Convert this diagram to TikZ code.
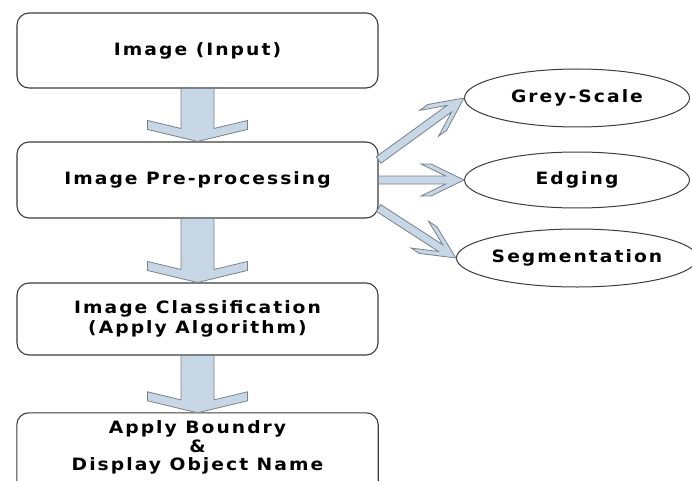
\documentclass[tikz,border=0pt]{standalone}
\usepackage{fontspec}
\usepackage{tikz}
\usetikzlibrary{shapes.geometric,calc}
\newfontfamily\diagfont{DejaVu Sans}[LetterSpace=12,FakeStretch=1.1]
\definecolor{flowfill}{RGB}{200,215,230}
\definecolor{flowedge}{RGB}{120,130,140}
\definecolor{boxedge}{RGB}{60,60,60}

\newcommand{\blockarrow}[6]{%
  \path let \p1=(#1), \p2=(#2) in \pgfextra{%
    \pgfmathsetmacro\baang{atan2(\y2-\y1,\x2-\x1)}\xdef\baang{\baang}%
    \pgfmathsetmacro\balen{veclen(\x2-\x1,\y2-\y1)}\xdef\balen{\balen}};
  \begin{scope}[shift={(#1)}, rotate=\baang, x=1pt, y=1pt]
    \draw[flowarrow] (0,#3) -- ({\balen-#6-#4*#3/#5},#3) -- ({\balen-#6-#4},#5)
      -- ({\balen-#4},#5) -- (\balen,0) -- ({\balen-#4},-#5) -- ({\balen-#6-#4},-#5)
      -- ({\balen-#6-#4*#3/#5},-#3) -- (0,-#3) -- cycle;
  \end{scope}}

\begin{document}
\begin{tikzpicture}[x=1pt,y=-1pt,
  txt/.style={font=\diagfont\bfseries\fontsize{17}{20}\selectfont, align=center, text=black},
  procbox/.style={txt, draw=boxedge, line width=1.1pt, rounded corners=12pt,
    minimum width=361pt, inner sep=0pt},
  stage/.style={txt, draw=boxedge, line width=1pt, ellipse, minimum width=225pt,
    minimum height=58pt, inner sep=0pt},
  flowarrow/.style={fill=flowfill, draw=flowedge, line width=0.8pt, line join=miter}]
\useasboundingbox (0,0) rectangle (692,481);

\node[procbox, minimum height=75pt] (img) at (197.5,50.5) {Image (Input)};
\node[procbox, minimum height=76pt] (pre) at (197.5,180) {Image Pre-processing};
\node[procbox, minimum height=72pt] (cls) at (197.5,319) {Image Classification\\(Apply Algorithm)};
\node[txt, minimum width=361pt, minimum height=69pt, inner sep=0pt,
  font=\diagfont\bfseries\fontsize{17}{18.5}\selectfont] (out) at (197.5,447.5)
  {Apply Boundry\\\&\\Display Object Name};
\draw[draw=boxedge, line width=1.1pt, rounded corners=12pt]
  ([yshift=1pt]out.south west) |- (out.north) -| ([yshift=1pt]out.south east);

\node[stage] (gs) at (577,98) {Grey-Scale};
\node[stage, minimum height=56pt] (ed) at (577,180) {Edging};
\node[stage, minimum width=227pt] (seg) at (577,258) {Segmentation};

\blockarrow{img.south}{pre.north}{16.5}{12}{50}{9}
\blockarrow{pre.south}{cls.north}{16.5}{12}{50}{9}
\blockarrow{cls.south}{out.north}{16.5}{12}{50}{9}

\blockarrow{[yshift=20pt]pre.east}{gs.west}{4}{33}{16}{10}
\blockarrow{pre.east}{ed.west}{4}{33}{16}{10}
\blockarrow{[yshift=-28pt]pre.east}{seg.west}{4}{33}{16}{10}
\end{tikzpicture}
\end{document}
